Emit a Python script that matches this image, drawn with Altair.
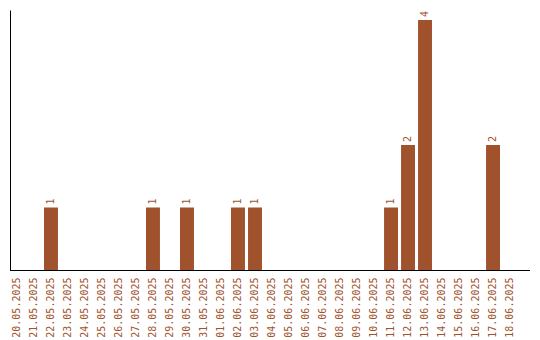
import altair as alt
import pandas as pd

dates = ["20.05.2025", "21.05.2025", "22.05.2025", "23.05.2025", "24.05.2025",
         "25.05.2025", "26.05.2025", "27.05.2025", "28.05.2025", "29.05.2025",
         "30.05.2025", "31.05.2025", "01.06.2025", "02.06.2025", "03.06.2025",
         "04.06.2025", "05.06.2025", "06.06.2025", "07.06.2025", "08.06.2025",
         "09.06.2025", "10.06.2025", "11.06.2025", "12.06.2025", "13.06.2025",
         "14.06.2025", "15.06.2025", "16.06.2025", "17.06.2025", "18.06.2025"]
counts = [0, 0, 1, 0, 0, 0, 0, 0, 1, 0,
          1, 0, 0, 1, 1, 0, 0, 0, 0, 0,
          0, 0, 1, 2, 4, 0, 0, 0, 2, 0]

df = pd.DataFrame({"date": dates, "count": counts})
df["label"] = df["count"].apply(lambda v: str(v) if v > 0 else "")

color = "#a0522d"
font = "DejaVu Sans Mono"
W, H = 520, 260

x = alt.X("date:O", sort=dates, title=None,
          scale=alt.Scale(paddingInner=0.18, paddingOuter=0, range=[0, 507]),
          axis=alt.Axis(labelAngle=270, labelAlign="right", labelBaseline="middle",
                        labelColor=color, labelFont=font, labelFontSize=10,
                        labelPadding=7, ticks=False, domain=False, grid=False))
y = alt.Y("count:Q", title=None, scale=alt.Scale(domain=[0, 4.16], nice=False),
          axis=alt.Axis(labels=False, ticks=False, grid=False, domainColor="black",
                        domainWidth=1))

bars = alt.Chart(df).mark_bar(color=color).encode(x=x, y=y)
text = alt.Chart(df).mark_text(angle=270, align="left", baseline="middle", dx=3,
                               color=color, font=font, fontSize=10).encode(
    x=x, y=y, text="label:N")
baseline = alt.Chart(df).mark_rule(color="black", strokeWidth=1).encode(
    x=alt.value(0), x2=alt.value(W), y=alt.value(H + 0.5))

chart = (bars + text + baseline).properties(
    width=W, height=H,
    autosize=alt.AutoSizeParams(type="none"),
    padding={"left": 10, "top": 10, "right": 10, "bottom": 70},
).configure(background="white").configure_view(strokeWidth=0, stroke="transparent")

chart.save("out.html", embed_options={"renderer": "svg", "actions": False})
